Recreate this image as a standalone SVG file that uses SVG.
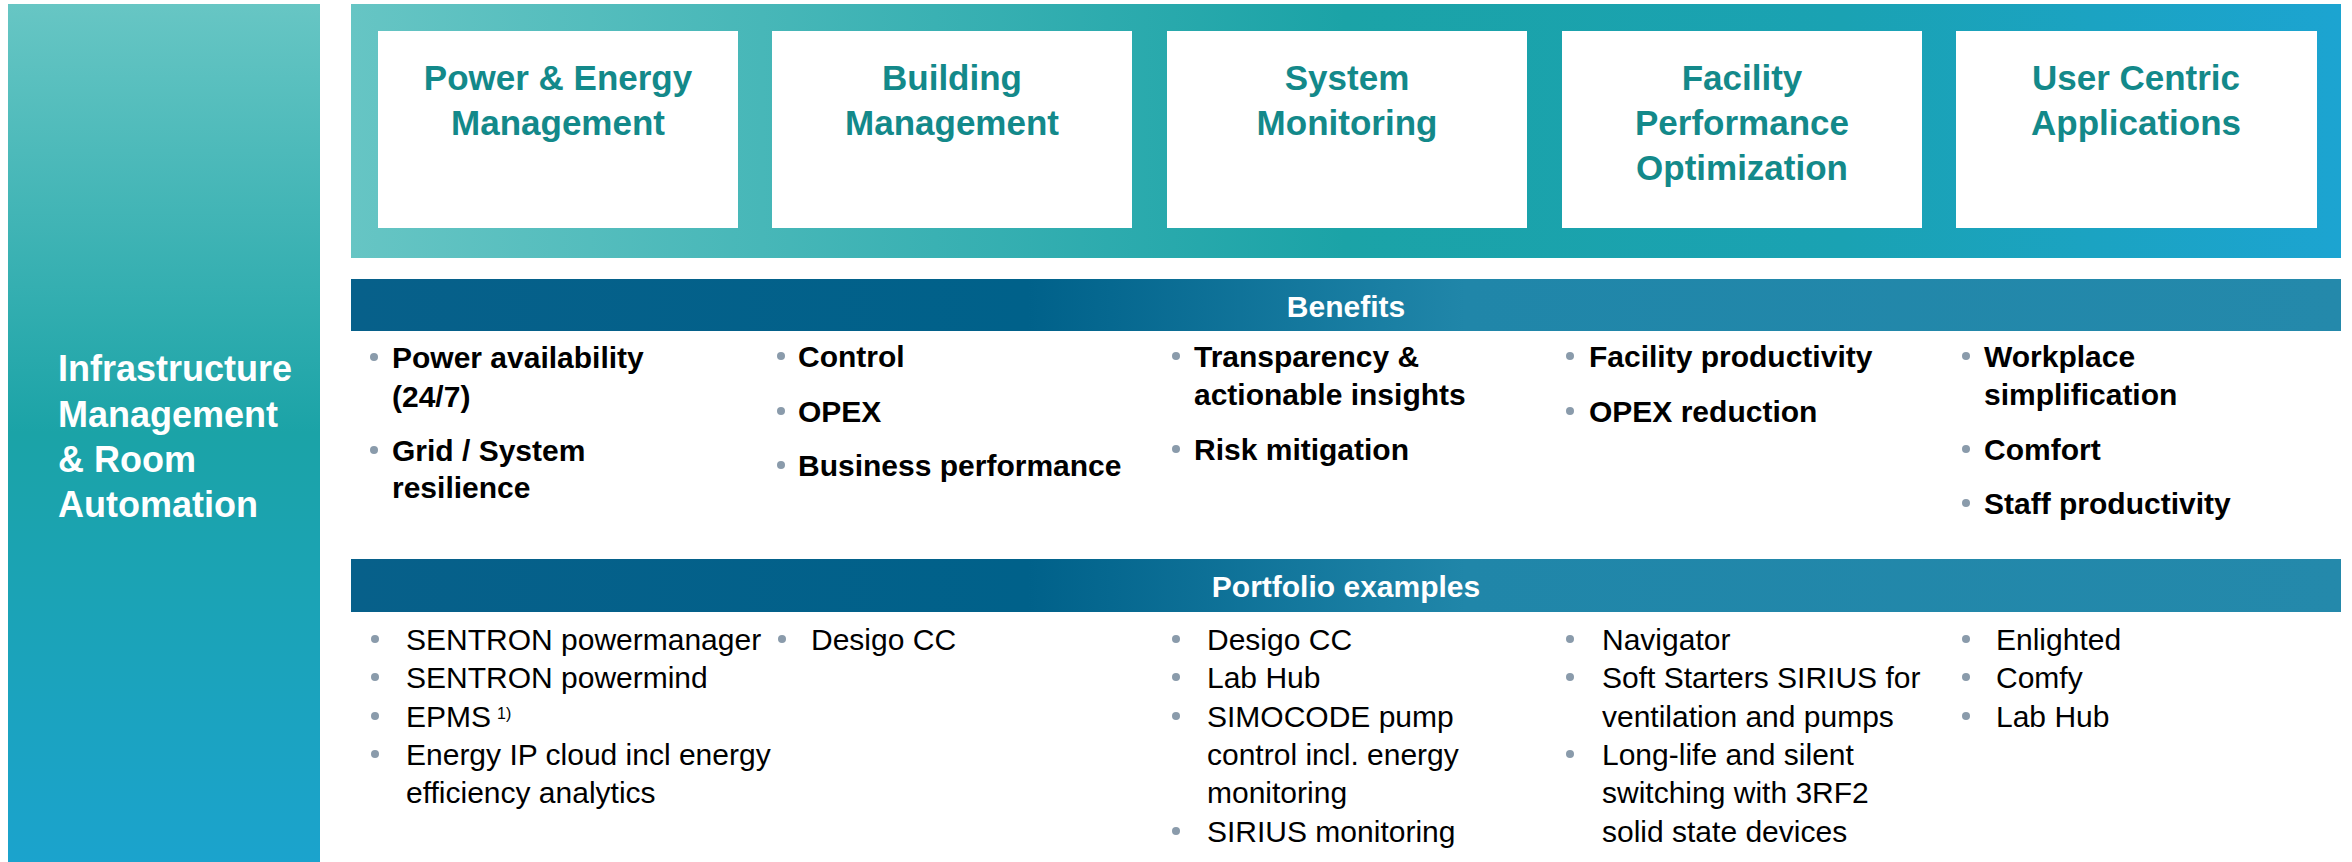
<svg xmlns="http://www.w3.org/2000/svg" width="2352" height="862" viewBox="0 0 2352 862">
<defs>
<linearGradient id="gLeft" x1="0" y1="0" x2="0" y2="1">
<stop offset="0" stop-color="#67c6c4"/>
<stop offset="0.5" stop-color="#1ba3a7"/>
<stop offset="1" stop-color="#1ba3cd"/>
</linearGradient>
<linearGradient id="gTop" gradientUnits="userSpaceOnUse" x1="351" y1="0" x2="2341" y2="0">
<stop offset="0" stop-color="#66c5c4"/>
<stop offset="0.5" stop-color="#1ba3a7"/>
<stop offset="0.75" stop-color="#1aa2b3"/>
<stop offset="1" stop-color="#1ca4d1"/>
</linearGradient>
<linearGradient id="gBar" gradientUnits="userSpaceOnUse" x1="351" y1="0" x2="2341" y2="0">
<stop offset="0" stop-color="#07608a"/>
<stop offset="0.34" stop-color="#00618a"/>
<stop offset="0.56" stop-color="#2086a9"/>
<stop offset="1" stop-color="#2489ab"/>
</linearGradient>
</defs>
<style>
.box{fill:#ffffff}
.ttl{font-family:"Liberation Sans",Arial,sans-serif;font-weight:bold;font-size:35px;fill:#13898a;text-anchor:middle}
.side{font-family:"Liberation Sans",Arial,sans-serif;font-weight:bold;font-size:36px;fill:#ffffff}
.hdr{font-family:"Liberation Sans",Arial,sans-serif;font-weight:bold;font-size:30px;fill:#ffffff;text-anchor:middle}
.ben{font-family:"Liberation Sans",Arial,sans-serif;font-weight:bold;font-size:30px;fill:#000000}
.prt{font-family:"Liberation Sans",Arial,sans-serif;font-size:30px;fill:#000000}
.sup{font-family:"Liberation Sans",Arial,sans-serif;font-size:16px;fill:#000000}
.dot{fill:#8a9bab}
</style>
<rect width="2352" height="862" fill="#ffffff"/>

<g id="side-panel">
<rect x="8" y="4" width="312" height="858" fill="url(#gLeft)"/>
<text class="side" x="58" y="381">Infrastructure</text>
<text class="side" x="58" y="427">Management</text>
<text class="side" x="58" y="472">&amp; Room</text>
<text class="side" x="58" y="517">Automation</text>
</g>

<g id="top-band">
<rect x="351" y="4" width="1990" height="254" fill="url(#gTop)"/>
</g>

<g id="node-power">
<rect class="box" x="378" y="31" width="360" height="197"/>
<text class="ttl" x="558" y="90">Power &amp; Energy</text>
<text class="ttl" x="558" y="135">Management</text>
</g>
<g id="node-building">
<rect class="box" x="772" y="31" width="360" height="197"/>
<text class="ttl" x="952" y="90">Building</text>
<text class="ttl" x="952" y="135">Management</text>
</g>
<g id="node-system">
<rect class="box" x="1167" y="31" width="360" height="197"/>
<text class="ttl" x="1347" y="90">System</text>
<text class="ttl" x="1347" y="135">Monitoring</text>
</g>
<g id="node-facility">
<rect class="box" x="1562" y="31" width="360" height="197"/>
<text class="ttl" x="1742" y="90">Facility</text>
<text class="ttl" x="1742" y="135">Performance</text>
<text class="ttl" x="1742" y="180">Optimization</text>
</g>
<g id="node-user">
<rect class="box" x="1956" y="31" width="361" height="197"/>
<text class="ttl" x="2136" y="90">User Centric</text>
<text class="ttl" x="2136" y="135">Applications</text>
</g>

<g id="benefits-header">
<rect x="351" y="279" width="1990" height="52" fill="url(#gBar)"/>
<text class="hdr" x="1346" y="317">Benefits</text>
</g>

<g id="benefits">
<circle class="dot" cx="374" cy="357" r="4"/>
<text class="ben" x="392" y="368">Power availability</text>
<text class="ben" x="392" y="407">(24/7)</text>
<circle class="dot" cx="374" cy="450" r="4"/>
<text class="ben" x="392" y="461">Grid / System</text>
<text class="ben" x="392" y="498">resilience</text>

<circle class="dot" cx="781" cy="356" r="4"/>
<text class="ben" x="798" y="367">Control</text>
<circle class="dot" cx="781" cy="411" r="4"/>
<text class="ben" x="798" y="422">OPEX</text>
<circle class="dot" cx="781" cy="465" r="4"/>
<text class="ben" x="798" y="476">Business performance</text>

<circle class="dot" cx="1176" cy="356" r="4"/>
<text class="ben" x="1194" y="367">Transparency &amp;</text>
<text class="ben" x="1194" y="405">actionable insights</text>
<circle class="dot" cx="1176" cy="449" r="4"/>
<text class="ben" x="1194" y="460">Risk mitigation</text>

<circle class="dot" cx="1570" cy="356" r="4"/>
<text class="ben" x="1589" y="367">Facility productivity</text>
<circle class="dot" cx="1570" cy="411" r="4"/>
<text class="ben" x="1589" y="422">OPEX reduction</text>

<circle class="dot" cx="1966" cy="356" r="4"/>
<text class="ben" x="1984" y="367">Workplace</text>
<text class="ben" x="1984" y="405">simplification</text>
<circle class="dot" cx="1966" cy="449" r="4"/>
<text class="ben" x="1984" y="460">Comfort</text>
<circle class="dot" cx="1966" cy="503" r="4"/>
<text class="ben" x="1984" y="514">Staff productivity</text>
</g>

<g id="portfolio-header">
<rect x="351" y="559" width="1990" height="53" fill="url(#gBar)"/>
<text class="hdr" x="1346" y="597">Portfolio examples</text>
</g>

<g id="portfolio">
<circle class="dot" cx="375" cy="639" r="4"/>
<text class="prt" x="406" y="650">SENTRON powermanager</text>
<circle class="dot" cx="375" cy="677" r="4"/>
<text class="prt" x="406" y="688">SENTRON powermind</text>
<circle class="dot" cx="375" cy="716" r="4"/>
<text class="prt" x="406" y="727">EPMS</text>
<text class="sup" x="497" y="719">1)</text>
<circle class="dot" cx="375" cy="754" r="4"/>
<text class="prt" x="406" y="765">Energy IP cloud incl energy</text>
<text class="prt" x="406" y="803">efficiency analytics</text>

<circle class="dot" cx="782" cy="639" r="4"/>
<text class="prt" x="811" y="650">Desigo CC</text>

<circle class="dot" cx="1176" cy="639" r="4"/>
<text class="prt" x="1207" y="650">Desigo CC</text>
<circle class="dot" cx="1176" cy="677" r="4"/>
<text class="prt" x="1207" y="688">Lab Hub</text>
<circle class="dot" cx="1176" cy="716" r="4"/>
<text class="prt" x="1207" y="727">SIMOCODE pump</text>
<text class="prt" x="1207" y="765">control incl. energy</text>
<text class="prt" x="1207" y="803">monitoring</text>
<circle class="dot" cx="1176" cy="831" r="4"/>
<text class="prt" x="1207" y="842">SIRIUS monitoring</text>

<circle class="dot" cx="1570" cy="639" r="4"/>
<text class="prt" x="1602" y="650">Navigator</text>
<circle class="dot" cx="1570" cy="677" r="4"/>
<text class="prt" x="1602" y="688">Soft Starters SIRIUS for</text>
<text class="prt" x="1602" y="727">ventilation and pumps</text>
<circle class="dot" cx="1570" cy="754" r="4"/>
<text class="prt" x="1602" y="765">Long-life and silent</text>
<text class="prt" x="1602" y="803">switching with 3RF2</text>
<text class="prt" x="1602" y="842">solid state devices</text>

<circle class="dot" cx="1966" cy="639" r="4"/>
<text class="prt" x="1996" y="650">Enlighted</text>
<circle class="dot" cx="1966" cy="677" r="4"/>
<text class="prt" x="1996" y="688">Comfy</text>
<circle class="dot" cx="1966" cy="716" r="4"/>
<text class="prt" x="1996" y="727">Lab Hub</text>
</g>
</svg>
